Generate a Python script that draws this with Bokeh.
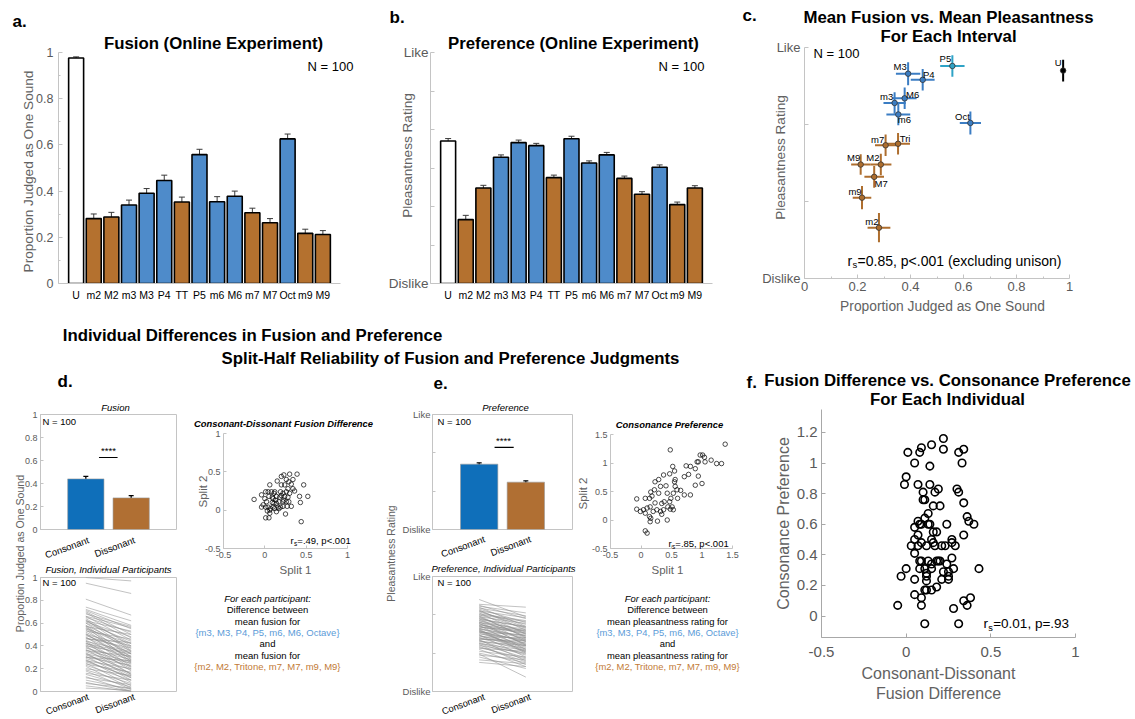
import math
import numpy as np
from bokeh.plotting import figure
from bokeh.models import Range1d, FixedTicker, Label, Whisker, TeeHead, ColumnDataSource
from bokeh.embed import file_html
from bokeh.resources import INLINE
from bokeh.core.properties import value

# ---------------- data ----------------
intervals = ["U", "m2", "M2", "m3", "M3", "P4", "TT", "P5", "m6", "M6", "m7", "M7", "Oct", "m9", "M9"]
scatter_names = ["U", "m2", "M2", "m3", "M3", "P4", "Tri", "P5", "m6", "M6", "m7", "M7", "Oct", "m9", "M9"]
interval_class = ["uni", "dis", "dis", "con", "con", "con", "dis", "con", "con", "con", "dis", "dis", "con", "dis", "dis"]

fusion_mean = [0.976, 0.281, 0.288, 0.340, 0.391, 0.446, 0.353, 0.558, 0.354, 0.378, 0.306, 0.263, 0.626, 0.217, 0.212]
fusion_sem = [0.005, 0.020, 0.020, 0.021, 0.020, 0.023, 0.021, 0.023, 0.022, 0.022, 0.020, 0.018, 0.021, 0.018, 0.017]
pref_mean = [0.70, -1.34, -0.52, 0.28, 0.66, 0.58, -0.25, 0.76, 0.13, 0.34, -0.27, -0.68, 0.02, -0.95, -0.52]
pref_sem = [0.065, 0.11, 0.07, 0.06, 0.065, 0.06, 0.065, 0.065, 0.055, 0.065, 0.06, 0.065, 0.06, 0.065, 0.06]
fusion_ci = [0.008, 0.043, 0.040, 0.042, 0.046, 0.045, 0.045, 0.046, 0.045, 0.045, 0.040, 0.037, 0.040, 0.035, 0.036]
pref_ci = [0.14, 0.19, 0.14, 0.14, 0.15, 0.14, 0.14, 0.14, 0.14, 0.14, 0.14, 0.14, 0.15, 0.15, 0.134]

group_names = ["Consonant", "Dissonant"]
d_bar_mean = [0.44, 0.275]
d_bar_sem = [0.022, 0.020]
e_bar_mean = [0.41, -0.53]
e_bar_sem = [0.07, 0.07]

d_lines_con = [1.00, 0.95, 0.81, 0.74, 0.72, 0.71, 0.70, 0.68, 0.66, 0.65, 0.64, 0.62, 0.61, 0.60, 0.60, 0.58,
               0.57, 0.56, 0.55, 0.54, 0.53, 0.52, 0.51, 0.50, 0.49, 0.48, 0.47, 0.46, 0.45, 0.44, 0.43, 0.42,
               0.41, 0.40, 0.39, 0.38, 0.37, 0.36, 0.35, 0.34, 0.33, 0.32, 0.31, 0.30, 0.29, 0.28, 0.27, 0.26,
               0.25, 0.24, 0.23, 0.22, 0.20, 0.19, 0.18, 0.16, 0.15, 0.13, 0.12, 0.10, 0.08, 0.07, 0.05, 0.03,
               0.62, 0.58, 0.55, 0.50, 0.47, 0.44, 0.42, 0.40, 0.36, 0.33, 0.30, 0.27, 0.66, 0.69, 0.63, 0.57]
d_lines_dis = [0.97, 0.86, 0.67, 0.62, 0.58, 0.55, 0.50, 0.57, 0.45, 0.52, 0.40, 0.53, 0.48, 0.35, 0.44, 0.30,
               0.50, 0.38, 0.42, 0.28, 0.46, 0.33, 0.25, 0.40, 0.36, 0.22, 0.31, 0.43, 0.27, 0.35, 0.18, 0.30,
               0.24, 0.33, 0.20, 0.28, 0.15, 0.26, 0.22, 0.12, 0.25, 0.19, 0.10, 0.23, 0.16, 0.08, 0.20, 0.13,
               0.05, 0.17, 0.10, 0.03, 0.14, 0.07, 0.02, 0.10, 0.04, 0.00, 0.06, 0.02, 0.00, 0.03, 0.00, 0.01,
               0.42, 0.39, 0.33, 0.29, 0.38, 0.21, 0.34, 0.15, 0.31, 0.14, 0.27, 0.12, 0.56, 0.47, 0.36, 0.26]

e_lines_con = [1.80, 1.55, 1.50, 1.45, 1.40, 1.35, 1.30, 1.25, 1.20, 1.15, 1.10, 1.05, 1.00, 0.95, 0.90, 0.85,
               0.80, 0.75, 0.70, 0.65, 0.60, 0.55, 0.50, 0.45, 0.40, 0.35, 0.30, 0.25, 0.20, 0.15, 0.10, 0.05,
               0.00, -0.05, -0.10, -0.15, -0.20, -0.25, -0.30, -0.35, -0.40, -0.45, -0.50, -0.55, -0.60, -0.70,
               -0.75, -0.80, -0.90, -1.00, -1.05, -1.10, -1.20, -1.35, -1.48, 1.00, 0.80, 0.60, 0.45, 0.30,
               0.20, 0.10, -0.05, -0.20, -0.35, -0.50, -0.65, 0.70, 0.55, 0.38, 0.12, -0.28, 0.90, 1.20, 0.25]
e_lines_dis = [0.90, 1.40, 0.80, 1.10, 0.40, 0.95, 0.60, 0.20, 0.85, 0.50, 0.00, 0.70, 0.30, -0.20, 0.55, 0.10,
               -0.40, 0.40, -0.10, -0.60, 0.25, -0.30, 0.00, -0.80, -0.20, 0.15, -0.50, -0.10, -1.00, -0.40, -0.05,
               -0.70, -0.30, -1.20, -0.55, -0.20, -0.90, -0.45, -1.40, -0.75, -0.60, -1.10, -0.85, -1.60, -1.00,
               -1.30, -0.90, -1.70, -1.20, -1.50, -2.25, -1.35, -1.80, -1.55, -1.70, 0.65, 0.35, 0.05, 0.20, -0.25,
               -0.65, -0.35, -0.85, -0.60, -1.05, -1.25, -1.45, 0.15, -0.55, 0.05, -0.80, -0.35, -0.15, 0.35, -0.95]

d_split1 = [-0.13, -0.04, 0.01, 0.00, 0.02, 0.01, 0.03, 0.01, 0.05, 0.06,
            0.07, 0.09, 0.10, 0.08, 0.06, 0.12, 0.11, 0.12, 0.14, 0.16,
            0.17, 0.18, 0.20, 0.22, 0.23, 0.22, 0.25, 0.24, 0.26, 0.28,
            0.29, 0.32, 0.27, 0.20, 0.15, 0.24, 0.20, 0.26, 0.30, 0.29,
            0.32, 0.34, 0.39, 0.36, 0.42, 0.47, 0.52, 0.43, 0.44, 0.05,
            0.09, 0.13, 0.19, 0.04, 0.10, 0.14, -0.02, 0.04, -0.04, 0.22,
            0.30, 0.23, 0.34, 0.11, 0.14, 0.06, 0.17, 0.26, 0.28, 0.19]
d_split2 = [0.14, 0.20, 0.24, 0.15, 0.11, 0.04, -0.01, -0.10, -0.10, -0.04,
            0.02, 0.10, 0.15, 0.24, 0.33, 0.24, 0.09, 0.02, -0.02, 0.04,
            0.11, 0.17, 0.19, 0.22, 0.13, 0.05, -0.05, 0.18, 0.24, 0.17,
            0.11, 0.05, 0.05, 0.33, 0.38, 0.33, 0.44, 0.40, 0.47, 0.37,
            0.34, 0.28, 0.47, 0.25, 0.18, 0.33, 0.18, 0.10, -0.15, 0.18,
            0.17, 0.13, 0.04, 0.04, 0.04, 0.09, 0.07, 0.24, 0.04, 0.11,
            0.22, 0.46, 0.40, 0.22, 0.18, 0.00, 0.02, 0.11, 0.28, 0.24]

e_split1 = [-0.07, -0.07, -0.01, 0.04, 0.07, 0.10, 0.07, 0.14, 0.15, 0.16,
            0.18, 0.14, 0.15, 0.16, 0.07, 0.10, 0.23, 0.26, 0.27, 0.23,
            0.29, 0.32, 0.34, 0.32, 0.34, 0.37, 0.38, 0.43, 0.44, 0.41,
            0.37, 0.47, 0.47, 0.48, 0.49, 0.51, 0.53, 0.53, 0.55, 0.55,
            0.56, 0.56, 0.59, 0.60, 0.48, 0.65, 0.71, 0.71, 0.78, 0.81,
            0.89, 0.92, 0.74, 0.89, 0.94, 0.97, 1.01, 1.04, 1.00, 0.94,
            1.05, 1.15, 1.24, 1.32, 1.38, 0.81, 0.52, 0.43, 0.29, 0.20,
            0.22]
e_split2 = [0.37, 0.19, 0.15, 0.18, 0.38, 0.21, 0.12, 0.38, 0.23, 0.49,
            0.42, 0.06, -0.03, 0.03, -0.19, -0.23, 0.30, 0.18, -0.02, 0.67,
            0.71, 0.59, 0.29, 0.15, 0.10, 0.18, 0.32, 0.47, 0.23, 0.60,
            0.79, 0.81, 0.32, 0.19, 0.38, 0.23, 0.18, 0.47, 0.86, 0.67,
            0.59, 0.71, 0.53, 0.38, 1.23, 0.52, 0.76, 0.44, 0.80, 0.94,
            0.90, 1.02, 0.95, 0.61, 0.77, 1.14, 1.14, 1.10, 0.64, 1.02,
            1.02, 1.05, 0.99, 0.99, 1.33, 0.44, 0.94, 0.00, 0.47, 0.15,
            0.53]

f_fusion_diff = [0.22, 0.01, 0.09, 0.08, 0.15, 0.22, 0.31, 0.34, 0.05, 0.14,
                 0.33, 0.00, -0.01, 0.07, 0.14, 0.19, 0.17, 0.30, 0.31, 0.10,
                 0.10, 0.11, 0.16, 0.20, 0.34, 0.13, 0.11, 0.36, 0.37, 0.40,
                 0.07, 0.09, 0.08, 0.13, 0.14, 0.24, 0.05, 0.07, 0.16, 0.18,
                 0.34, 0.05, 0.15, 0.27, 0.09, 0.16, 0.27, 0.03, 0.07, 0.12,
                 0.17, 0.21, 0.23, 0.29, 0.05, 0.27, 0.08, 0.09, 0.13, 0.18,
                 0.19, 0.20, 0.15, 0.24, 0.00, 0.08, 0.11, 0.15, 0.22, 0.28,
                 0.43, 0.25, 0.12, -0.03, 0.12, 0.25, 0.05, 0.12, 0.21, 0.25,
                 0.11, 0.12, 0.15, 0.18, 0.05, 0.09, 0.38, 0.34, -0.05, 0.09,
                 0.36, 0.28, 0.11, 0.31]
f_cons_pref = [1.16, 1.07, 1.10, 1.07, 1.12, 1.09, 1.07, 1.09, 1.00, 0.98,
               1.00, 0.91, 0.86, 0.86, 0.86, 0.83, 0.81, 0.83, 0.81, 0.81,
               0.76, 0.76, 0.72, 0.72, 0.74, 0.67, 0.64, 0.65, 0.62, 0.60,
               0.62, 0.60, 0.60, 0.60, 0.60, 0.60, 0.58, 0.53, 0.55, 0.55,
               0.53, 0.50, 0.50, 0.50, 0.48, 0.48, 0.48, 0.46, 0.46, 0.46,
               0.46, 0.46, 0.46, 0.46, 0.41, 0.38, 0.36, 0.36, 0.36, 0.36,
               0.36, 0.36, 0.34, 0.34, 0.31, 0.31, 0.31, 0.31, 0.29, 0.31,
               0.31, 0.29, 0.28, 0.26, 0.26, 0.26, 0.24, 0.23, 0.24, 0.24,
               0.17, 0.17, 0.17, 0.19, 0.14, 0.12, 0.12, 0.10, 0.07, 0.07,
               0.07, 0.05, -0.05, -0.05]

# ---------------- style ----------------
FONT = "Liberation Sans"
TICK_GRAY = "#5a5a5a"
LABEL_GRAY = "#626262"
AXIS_GRAY = "#c4c4c4"
CLS_COLOR_A = {"uni": "white", "con": "#4e8bca", "dis": "#b4712f"}
CLS_COLOR_C = {"uni": "black", "con": "#3b7dc3", "dis": "#ae6e2e"}
P5_COLOR_C = "#2fa3c6"
BLUE_D = "#0f6fba"
BROWN_D = "#b06f33"
TXT_BLUE = "#5b9bd8"
TXT_BROWN = "#c27a36"
LINE_GRAY = "#8e8e8e"

C_LABEL_OFFSETS = {"U": (-5, -8), "m2": (-7, -6), "M2": (-8, -7), "m3": (-8, -6), "M3": (-8, -7),
                   "P4": (6, -5), "Tri": (7, -5), "P5": (-7, -7), "m6": (6, 5), "M6": (8, -4),
                   "m7": (-8, -6), "M7": (7, 7), "Oct": (-8, -6), "m9": (-7, -6), "M9": (-7, -7)}


def plot_fig(frame, xr, yr, border, x_axis=True, y_axis=True):
    """A figure whose plotting frame sits at the page box `frame` = (left, right, top, bottom)."""
    L, R, T, B = frame
    bl, br, bt, bb = border
    p = figure(width=R - L + bl + br, height=B - T + bt + bb,
               x_range=Range1d(*xr), y_range=Range1d(*yr), title=None,
               x_axis_type="linear" if x_axis else None, y_axis_type="linear" if y_axis else None,
               min_border_left=bl, min_border_right=br, min_border_top=bt, min_border_bottom=bb,
               output_backend="svg", toolbar_location=None,
               styles={"position": "absolute", "left": f"{L - bl}px", "top": f"{T - bt}px"})
    p.grid.visible = False
    p.outline_line_color = None
    p.border_fill_color = None
    p.background_fill_color = None
    return p


def style_axis(ax, ticks, labels, size, color=TICK_GRAY, standoff=4, minor=None, tick_in=4,
               minor_in=2, line_color=AXIS_GRAY):
    ax.ticker = FixedTicker(ticks=ticks, minor_ticks=minor or [])
    ax.major_label_overrides = {t: l for t, l in zip(ticks, labels)}
    ax.major_label_text_font = FONT
    ax.major_label_text_font_size = f"{size}px"
    ax.major_label_text_color = color
    ax.major_label_standoff = standoff
    ax.axis_line_color = line_color
    ax.major_tick_line_color = line_color
    ax.minor_tick_line_color = line_color
    ax.major_tick_in = tick_in
    ax.major_tick_out = 0
    ax.minor_tick_in = minor_in if minor else 0
    ax.minor_tick_out = 0


# overlay figure for every text outside the plotting frames (page coordinates)
ov = figure(width=1135, height=719, x_range=Range1d(0, 1135), y_range=Range1d(719, 0), title=None,
            x_axis_type=None, y_axis_type=None, min_border_left=0, min_border_right=0,
            min_border_top=0, min_border_bottom=0, output_backend="svg", toolbar_location=None,
            styles={"position": "absolute", "left": "0px", "top": "0px"})
ov.grid.visible = False
ov.outline_line_color = None
ov.border_fill_color = None
ov.background_fill_color = None


def txt(px, py, text, size, color="black", style="normal", align="center", baseline="middle", angle=0.0):
    ov.add_layout(Label(x=px, y=py, text=text, text_font=FONT, text_font_size=f"{size}px",
                        text_color=color, text_font_style=style, text_align=align,
                        text_baseline=baseline, angle=angle))


def rs_text(px, py, rest, size, color="black"):
    txt(px, py, "r", size, color, align="left")
    sx = px + 0.36 * size
    txt(sx, py + 0.3 * size, "s", round(size * 0.68, 1), color, align="left")
    txt(sx + 0.36 * size, py, rest, size, color, align="left")


UP = math.pi / 2
ROT = 0.35
xpos = list(range(1, len(intervals) + 1))
bar_colors = [CLS_COLOR_A[c] for c in interval_class]
frac_ticks = [0, 0.2, 0.4, 0.6, 0.8, 1]
frac_labels = ["0", "0.2", "0.4", "0.6", "0.8", "1"]


def whisker(src, color, width, head):
    return Whisker(source=src, base="x", upper="upper", lower="lower", line_color=color, line_width=width,
                   upper_head=TeeHead(size=head, line_color=color, line_width=width),
                   lower_head=TeeHead(size=head, line_color=color, line_width=width))


# ---------------- panel a ----------------
pa = plot_fig((58, 340, 52, 283), (0, 16), (0, 1), (50, 20, 12, 30))
src_a = ColumnDataSource(dict(x=xpos, top=fusion_mean, color=bar_colors,
                              upper=list(np.array(fusion_mean) + np.array(fusion_sem)),
                              lower=list(np.array(fusion_mean) - np.array(fusion_sem))))
pa.vbar(x="x", top="top", width=0.85, fill_color="color", line_color="black", line_width=1.6, source=src_a)
pa.add_layout(whisker(src_a, "#3a3a3a", 1, 6))
style_axis(pa.yaxis[0], frac_ticks, frac_labels, 12.5, standoff=5, minor=[0.1, 0.3, 0.5, 0.7, 0.9])
style_axis(pa.xaxis[0], xpos, intervals, 10.5, color="black", standoff=5, tick_in=0)
txt(12, 21, "a.", 17, style="bold", align="left")
txt(213, 43, "Fusion (Online Experiment)", 16.8, style="bold")
txt(307, 66, "N = 100", 13, align="left")
txt(28, 171, "Proportion Judged as One Sound", 13.6, LABEL_GRAY, angle=UP)

# ---------------- panel b ----------------
pb = plot_fig((430, 712, 52, 283), (0, 16), (-3, 3), (50, 20, 12, 30))
src_b = ColumnDataSource(dict(x=xpos, top=pref_mean, color=bar_colors,
                              upper=list(np.array(pref_mean) + np.array(pref_sem)),
                              lower=list(np.array(pref_mean) - np.array(pref_sem))))
pb.vbar(x="x", top="top", bottom=-3, width=0.85, fill_color="color", line_color="black", line_width=1.6,
        source=src_b)
pb.add_layout(whisker(src_b, "#3a3a3a", 1, 6))
style_axis(pb.yaxis[0], [-3, 3], ["Dislike", "Like"], 13.5, standoff=2, minor=[-2, -1, 0, 1, 2], minor_in=4)
style_axis(pb.xaxis[0], xpos, intervals, 10.5, color="black", standoff=5, tick_in=0)
txt(389, 17, "b.", 17, style="bold", align="left")
txt(573, 43, "Preference (Online Experiment)", 16.8, style="bold")
txt(658, 66, "N = 100", 13, align="left")
txt(407, 155, "Pleasantness Rating", 13.6, LABEL_GRAY, angle=UP)

# ---------------- panel c ----------------
pc = plot_fig((804, 1069, 47, 278), (0, 1), (-2, 1), (50, 30, 12, 30))
c_colors = [CLS_COLOR_C[c] for c in interval_class]
c_colors[intervals.index("P5")] = P5_COLOR_C
fm = np.array(fusion_mean)
pm = np.array(pref_mean)
fci = np.array(fusion_ci)
pci = np.array(pref_ci)
src_c = ColumnDataSource(dict(x=fm, y=pm, xl=fm - fci, xh=fm + fci, yl=pm - pci, yh=pm + pci,
                              color=c_colors, name=scatter_names,
                              dx=[C_LABEL_OFFSETS[n][0] for n in scatter_names],
                              dy=[C_LABEL_OFFSETS[n][1] for n in scatter_names]))
pc.segment(x0="xl", y0="y", x1="xh", y1="y", line_color="color", line_width=2, source=src_c)
pc.segment(x0="x", y0="yl", x1="x", y1="yh", line_color="color", line_width=2, source=src_c)
pc.scatter(x="x", y="y", size=5.5, fill_color="color", line_color="#333333", line_width=0.8, source=src_c)
pc.text(x="x", y="y", text="name", x_offset="dx", y_offset="dy", text_font=value(FONT),
        text_font_size="9.5px", text_align="center", text_baseline="middle", text_color="black", source=src_c)
style_axis(pc.yaxis[0], [-2, 1], ["Dislike", "Like"], 13, standoff=4, minor=[-1, 0], minor_in=4)
style_axis(pc.xaxis[0], frac_ticks, frac_labels, 13, standoff=3, minor=[0.1, 0.3, 0.5, 0.7, 0.9])
txt(742, 15, "c.", 17, style="bold", align="left")
txt(948, 17, "Mean Fusion vs. Mean Pleasantness", 16.8, style="bold")
txt(948, 36, "For Each Interval", 16.8, style="bold")
txt(813, 53, "N = 100", 13, align="left")
txt(780, 157, "Pleasantness Rating", 13.6, LABEL_GRAY, angle=UP)
txt(942, 306, "Proportion Judged as One Sound", 13.8, LABEL_GRAY)
rs_text(847, 260, "=0.85, p<.001 (excluding unison)", 14)

# ---------------- headers ----------------
txt(252, 335, "Individual Differences in Fusion and Preference", 16.8, style="bold")
txt(450, 358, "Split-Half Reliability of Fusion and Preference Judgments", 16.8, style="bold")

# ---------------- panel d ----------------
pdb = plot_fig((40, 176, 414, 529), (0, 3), (0, 1), (30, 10, 10, 10), x_axis=False)
pdb.outline_line_color = AXIS_GRAY
src_db = ColumnDataSource(dict(x=[1, 2], top=d_bar_mean, color=[BLUE_D, BROWN_D],
                               upper=list(np.array(d_bar_mean) + np.array(d_bar_sem)),
                               lower=list(np.array(d_bar_mean) - np.array(d_bar_sem))))
pdb.vbar(x="x", top="top", width=0.8, fill_color="color", line_color="#9a9a9a", line_width=0.6, source=src_db)
pdb.add_layout(whisker(src_db, "black", 1.3, 5))
pdb.segment(x0=[1.29], y0=[0.626], x1=[1.70], y1=[0.626], line_color="black", line_width=1.2)
style_axis(pdb.yaxis[0], frac_ticks, frac_labels, 9, standoff=3, tick_in=3)

pdl = plot_fig((40, 176, 577, 691), (0, 3), (0, 1), (30, 10, 10, 10), x_axis=False)
pdl.outline_line_color = AXIS_GRAY
pdl.multi_line(xs=[[1, 2] for _ in d_lines_con], ys=[[c, d] for c, d in zip(d_lines_con, d_lines_dis)],
               line_color=LINE_GRAY, line_width=0.6, line_alpha=0.9)
style_axis(pdl.yaxis[0], frac_ticks, frac_labels, 9, standoff=3, tick_in=3)

pds = plot_fig((223, 347, 433, 548), (-0.5, 1), (-0.5, 1), (30, 10, 10, 20))
pds.scatter(d_split1, d_split2, size=4.5, fill_color=None, line_color="black", line_width=0.7)
style_axis(pds.xaxis[0], [-0.5, 0, 0.5, 1], ["-0.5", "0", "0.5", "1"], 9, standoff=3, tick_in=3)
style_axis(pds.yaxis[0], [-0.5, 0, 0.5, 1], ["-0.5", "0", "0.5", "1"], 9, standoff=3, tick_in=3)

txt(19, 553, "Proportion Judged as One Sound", 10.6, LABEL_GRAY, angle=UP)
txt(57, 381, "d.", 17, style="bold", align="left")
txt(115, 407, "Fusion", 9.5, style="italic")
txt(42, 421, "N = 100", 9.5, align="left")
txt(108, 450, "****", 9.5)
txt(88, 539, group_names[0], 9.5, angle=ROT, align="right")
txt(134, 539, group_names[1], 9.5, angle=ROT, align="right")
txt(108, 569, "Fusion, Individual Participants", 9.5, style="italic")
txt(42, 582, "N = 100", 9.5, align="left")
txt(88, 696, group_names[0], 9.3, angle=ROT, align="right")
txt(134, 696, group_names[1], 9.3, angle=ROT, align="right")
txt(283, 423, "Consonant-Dissonant Fusion Difference", 9.4, style="bold italic")
rs_text(290, 540, "=.49, p<.001", 9.5)
txt(202, 491, "Split 2", 11.5, LABEL_GRAY, angle=UP)
txt(295, 569, "Split 1", 11.5, LABEL_GRAY)
d_block = [("For each participant:", "black", "italic"), ("Difference between", "black", "normal"),
           ("mean fusion for", "black", "normal"), ("{m3, M3, P4, P5, m6, M6, Octave}", TXT_BLUE, "normal"),
           ("and", "black", "normal"), ("mean fusion for", "black", "normal"),
           ("{m2, M2, Tritone, m7, M7, m9, M9}", TXT_BROWN, "normal")]
for i, (t, c, s) in enumerate(d_block):
    txt(267, 598 + 11.3 * i, t, 9.5, c, style=s)

# ---------------- panel e ----------------
peb = plot_fig((432, 572, 414, 529), (0, 3), (-3, 3), (40, 10, 10, 10), x_axis=False)
peb.outline_line_color = AXIS_GRAY
src_eb = ColumnDataSource(dict(x=[1, 2], top=e_bar_mean, color=[BLUE_D, BROWN_D],
                               upper=list(np.array(e_bar_mean) + np.array(e_bar_sem)),
                               lower=list(np.array(e_bar_mean) - np.array(e_bar_sem))))
peb.vbar(x="x", top="top", bottom=-3, width=0.8, fill_color="color", line_color="#9a9a9a", line_width=0.6,
         source=src_eb)
peb.add_layout(whisker(src_eb, "black", 1.3, 5))
peb.segment(x0=[1.33], y0=[1.28], x1=[1.74], y1=[1.28], line_color="black", line_width=1.2)
style_axis(peb.yaxis[0], [-3, 3], ["Dislike", "Like"], 9.5, standoff=2, minor=[-1, 1], tick_in=3, minor_in=3)

pel = plot_fig((432, 572, 576, 691), (0, 3), (-3, 3), (40, 10, 10, 10), x_axis=False)
pel.outline_line_color = AXIS_GRAY
pel.multi_line(xs=[[1, 2] for _ in e_lines_con], ys=[[c, d] for c, d in zip(e_lines_con, e_lines_dis)],
               line_color=LINE_GRAY, line_width=0.6, line_alpha=0.9)
style_axis(pel.yaxis[0], [-3, 3], ["Dislike", "Like"], 9.5, standoff=2, minor=[-1, 1], tick_in=3, minor_in=3)

e_ticks = [-0.5, 0, 0.5, 1, 1.5]
e_tlabels = ["-0.5", "0", "0.5", "1", "1.5"]
pes = plot_fig((610, 732, 434, 548), (-0.5, 1.5), (-0.5, 1.5), (30, 10, 10, 20))
pes.scatter(e_split1, e_split2, size=4.5, fill_color=None, line_color="black", line_width=0.7)
style_axis(pes.xaxis[0], e_ticks, e_tlabels, 9, standoff=3, tick_in=3)
style_axis(pes.yaxis[0], e_ticks, e_tlabels, 9, standoff=3, tick_in=3)

txt(390, 553, "Pleasantness Rating", 10.5, LABEL_GRAY, angle=UP)
txt(433, 382, "e.", 17, style="bold", align="left")
txt(505, 407, "Preference", 9.5, style="italic")
txt(437, 421, "N = 100", 9.5, align="left")
txt(503, 440, "****", 9.5)
txt(484, 538, group_names[0], 9.5, angle=ROT, align="right")
txt(530, 538, group_names[1], 9.5, angle=ROT, align="right")
txt(503, 568, "Preference, Individual Participants", 9.5, style="italic")
txt(437, 582, "N = 100", 9.5, align="left")
txt(484, 696, group_names[0], 9.3, angle=ROT, align="right")
txt(530, 696, group_names[1], 9.3, angle=ROT, align="right")
txt(669, 424, "Consonance Preference", 9.4, style="bold italic")
rs_text(668, 543, "=.85, p<.001", 9.5)
txt(582, 493, "Split 2", 11.5, LABEL_GRAY, angle=UP)
txt(667, 569, "Split 1", 11.5, LABEL_GRAY)
e_block = [("For each participant:", "black", "italic"), ("Difference between", "black", "normal"),
           ("mean pleasantness rating for", "black", "normal"),
           ("{m3, M3, P4, P5, m6, M6, Octave}", TXT_BLUE, "normal"),
           ("and", "black", "normal"), ("mean pleasantness rating for", "black", "normal"),
           ("{m2, M2, Tritone, m7, M7, m9, M9}", TXT_BROWN, "normal")]
for i, (t, c, s) in enumerate(e_block):
    txt(667, 598 + 11.3 * i, t, 9.4, c, style=s)

# ---------------- panel f ----------------
pf = plot_fig((821, 1075, 409, 637), (-0.5, 1), (-0.14, 1.35), (50, 30, 10, 40))
pf.scatter(f_fusion_diff, f_cons_pref, size=7.5, fill_color=None, line_color="black", line_width=1.6)
style_axis(pf.xaxis[0], [-0.5, 0, 0.5, 1], ["-0.5", "0", "0.5", "1"], 15, standoff=9, tick_in=4,
           line_color="#a8a8a8")
style_axis(pf.yaxis[0], [0, 0.2, 0.4, 0.6, 0.8, 1, 1.2], ["0", "0.2", "0.4", "0.6", "0.8", "1", "1.2"], 15,
           standoff=4, tick_in=4, line_color="#a8a8a8")
txt(746, 382, "f.", 17, style="bold", align="left")
txt(947, 380, "Fusion Difference vs. Consonance Preference", 16.8, style="bold")
txt(947, 399, "For Each Individual", 16.8, style="bold")
txt(783, 523, "Consonance Preference", 16, LABEL_GRAY, angle=UP)
txt(938, 673, "Consonant-Dissonant", 16, LABEL_GRAY)
txt(938, 693, "Fusion Difference", 16, LABEL_GRAY)
rs_text(983, 623, "=0.01, p=.93", 13.5)

roots = [pa, pb, pc, pdb, pdl, pds, peb, pel, pes, pf, ov]
open("out.html", "w").write(file_html(roots, INLINE))
